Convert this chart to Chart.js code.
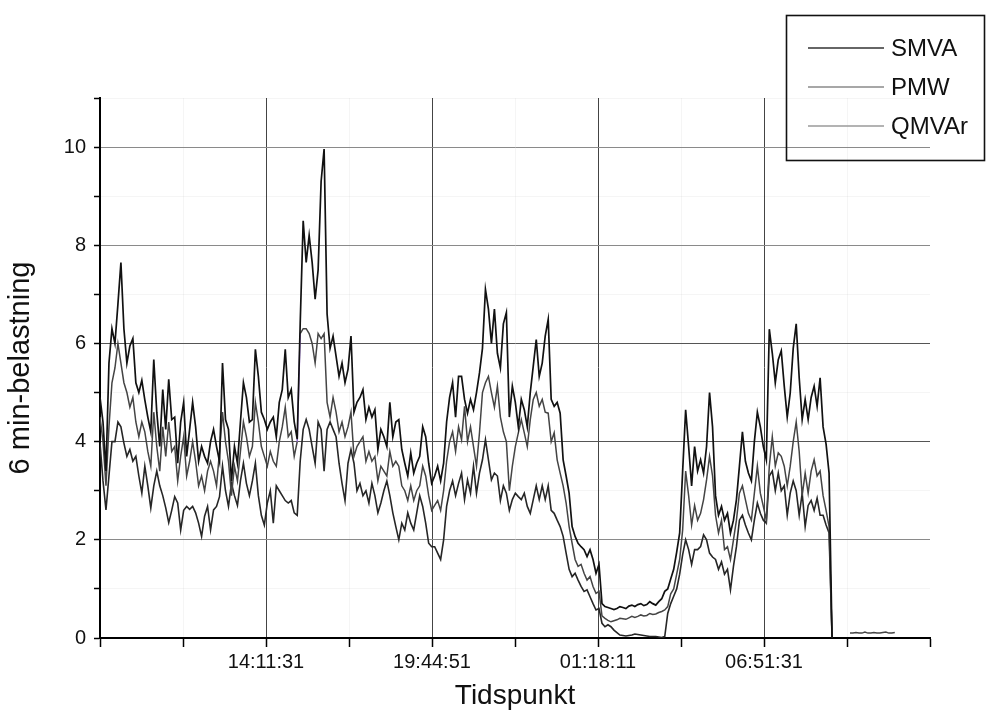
<!DOCTYPE html>
<html>
<head>
<meta charset="utf-8">
<title>6 min-belastning</title>
<script src="https://cdn.jsdelivr.net/npm/chart.js@4.4.1/dist/chart.umd.min.js"></script>
<style>
  body { margin: 0; background: #fff; }
  #wrap { width: 999px; height: 716px; }
</style>
</head>
<body>
<div id="wrap"><canvas id="myChart" width="999" height="716"></canvas></div>
<script>
// 6 minute samples, first one at 08:38:11
var sampleStep = 360;
var xTickLabels = ['', '14:11:31', '19:44:51', '01:18:11', '06:51:31', ''];
var seriesNames = ['SMVA', 'PMW', 'QMVAr'];

var smva = [
  4.9, 4.4, 3.4, 5.6, 6.3, 6.0, 6.8, 7.65, 6.3, 5.6,
  5.95, 6.1, 5.2, 5.0, 5.25, 4.85, 4.5, 4.2, 5.67, 4.6,
  3.9, 5.06, 4.25, 5.27, 4.45, 4.5, 3.56, 4.4, 4.8, 3.7,
  4.25, 4.8, 4.3, 3.6, 3.9, 3.7, 3.56, 4.0, 4.25, 3.9,
  3.6, 5.6, 4.45, 4.25, 3.2, 3.9, 3.56, 4.4, 5.2, 4.9,
  4.4, 4.45, 5.88, 5.33, 4.6, 4.45, 4.25, 4.4, 4.5, 4.1,
  4.8, 5.06, 5.88, 4.9, 5.06, 4.4, 4.05, 6.4, 8.5, 7.65,
  8.2, 7.65, 6.9, 7.5, 9.3, 9.96, 6.6, 5.9, 6.15, 5.74,
  5.33, 5.6, 5.2, 5.47, 6.15, 4.6, 4.8, 4.9, 5.06, 4.45,
  4.7, 4.5, 4.65, 3.84, 4.25, 4.1, 3.9, 4.8, 4.1, 4.4,
  4.45, 3.84, 3.56, 3.3, 3.77, 3.36, 3.56, 3.7, 4.3, 4.1,
  3.56, 3.15, 3.3, 3.5, 3.2, 3.56, 4.4, 4.9, 5.2, 4.5,
  5.33, 5.33, 4.86, 4.58, 4.86, 4.65, 5.0, 5.4, 5.9, 7.1,
  6.7, 6.0, 6.7, 5.8, 5.5, 6.4, 6.63, 4.5, 5.13, 4.8,
  4.3, 4.86, 4.65, 4.3, 5.0, 5.54, 6.08, 5.33, 5.6, 6.15,
  6.49, 4.86, 4.72, 4.8, 4.58, 3.63, 3.3, 2.95, 2.27, 2.07,
  1.93, 1.86, 1.8, 1.66, 1.8, 1.6, 1.32, 1.5, 0.7, 0.64,
  0.62, 0.6, 0.58, 0.6, 0.64, 0.62, 0.6, 0.65, 0.67, 0.64,
  0.68, 0.7, 0.66, 0.68, 0.74, 0.7, 0.67, 0.74, 0.8, 0.95,
  1.0, 1.2, 1.4, 1.75, 2.14, 3.4, 4.65, 3.9, 3.1, 3.9,
  3.4, 3.63, 3.36, 3.9, 5.0, 4.3, 2.9, 2.5, 2.68, 2.4,
  2.54, 2.14, 2.4, 2.82, 3.5, 4.2, 3.6, 3.36, 3.2, 4.0,
  4.6, 4.3, 3.9, 3.63, 6.29, 5.8, 5.2, 5.67, 5.85, 5.13,
  4.5, 4.99, 5.9, 6.4, 5.3, 4.45, 4.86, 4.45, 4.9, 5.13,
  4.72, 5.3, 4.3, 3.95, 3.36, 0
];

var pmw = [
  4.5, 4.0, 3.1, 4.3, 5.2, 5.5, 6.0, 5.6, 5.2, 5.0,
  4.7, 4.9, 4.4, 4.1, 4.4, 4.2, 3.8, 3.5, 4.6, 3.9,
  3.4, 4.3, 3.7, 4.4, 3.8, 3.9, 3.2, 3.7, 4.1, 3.3,
  3.6, 4.0, 3.6, 3.1, 3.3, 3.0, 3.4, 3.6, 3.4, 3.1,
  3.8, 4.6, 4.0, 3.6, 2.9, 3.5, 3.2, 3.8, 4.4, 4.1,
  3.7, 3.9, 4.8, 4.4, 3.9, 3.7, 3.5, 3.8, 3.6, 3.5,
  4.0, 4.3, 4.7, 4.1, 4.2, 3.7, 4.0, 6.2, 6.3, 6.3,
  6.2, 6.0, 5.6, 6.2, 6.1, 6.2, 4.8, 4.5, 4.9, 4.6,
  4.2, 4.4, 4.1, 4.3, 4.6, 3.7, 3.9, 4.0, 4.1, 3.6,
  3.8, 3.6, 3.7, 3.2, 3.5, 3.4, 3.3, 3.8, 3.5, 3.6,
  3.5, 3.1, 3.0, 2.8, 3.1, 2.8, 3.0, 3.1, 3.5, 3.3,
  2.9, 2.6, 2.7, 2.8, 2.6, 3.0, 3.6, 4.0, 4.2, 3.8,
  4.3, 4.04, 4.72, 4.0, 4.3, 3.9, 3.5, 4.18, 5.0, 5.2,
  5.33, 5.0, 4.7, 5.13, 4.5, 4.2, 4.0, 3.0, 3.5, 3.9,
  4.18, 4.45, 4.18, 3.9, 4.45, 4.86, 5.0, 4.72, 4.86, 4.6,
  4.58, 4.0, 4.18, 3.63, 3.36, 3.1, 2.75, 2.27, 1.93, 1.6,
  1.46, 1.5, 1.32, 1.18, 1.25, 1.05, 0.91, 0.95, 0.45, 0.4,
  0.36, 0.33, 0.35, 0.37, 0.4, 0.39, 0.38, 0.41, 0.44, 0.42,
  0.44, 0.47, 0.45, 0.46, 0.5, 0.48, 0.49, 0.52, 0.54, 0.57,
  0.64, 0.9, 1.0, 1.3, 1.6, 2.2, 3.4, 2.9, 2.3, 2.7,
  2.4, 2.54, 2.82, 3.22, 3.7, 3.3, 2.5, 2.14, 2.4, 1.8,
  1.86, 1.6, 2.0, 2.4, 2.95, 3.1, 2.82, 2.54, 2.4, 2.95,
  3.5, 2.95, 2.68, 2.4, 3.5, 4.1, 3.5, 3.77, 3.7, 3.5,
  3.1, 3.5, 4.0, 4.4, 3.8, 2.9, 3.36, 2.95, 3.4, 3.63,
  3.3, 3.4, 2.9, 2.6, 2.27, 0,
  null, null, null, null, null,
  0.1, 0.1, 0.11, 0.1, 0.1, 0.12, 0.1, 0.1, 0.11, 0.1, 0.1, 0.11, 0.12, 0.1, 0.1, 0.11
];

var qmvar = [
  3.97, 3.2, 2.61, 3.3, 4.0, 4.0, 4.4, 4.3, 3.97, 3.7,
  3.84, 3.6, 3.7, 3.3, 2.95, 3.5, 3.1, 2.65, 3.1, 3.4,
  3.1, 2.9, 2.65, 2.35, 2.6, 2.88, 2.75, 2.2, 2.6, 2.68,
  2.62, 2.68, 2.55, 2.34, 2.07, 2.48, 2.68, 2.2, 2.61, 2.68,
  2.88, 3.5, 3.0, 2.68, 3.15, 2.9, 2.7, 3.2, 3.56, 3.15,
  2.9, 3.2, 3.56, 2.9, 2.5, 2.3, 2.75, 3.0, 2.34, 3.1,
  3.0, 2.9, 2.8, 2.75, 2.8, 2.55, 2.5, 3.6, 4.25, 4.45,
  4.25, 3.9, 3.56, 4.4, 4.25, 3.4, 4.25, 4.4, 4.25, 4.1,
  3.56, 3.15, 2.8, 3.56, 3.84, 3.56, 3.0, 3.15, 2.9, 3.0,
  2.75, 3.15, 2.9, 2.55, 2.75, 3.0, 3.2, 2.9, 2.55, 2.27,
  2.0, 2.34, 2.2, 2.55, 2.34, 2.2, 2.55, 2.9, 2.68, 2.34,
  1.93, 1.86, 1.86, 1.73, 1.6, 2.0, 2.68, 3.0, 3.2, 2.9,
  3.15, 3.36, 2.82, 3.22, 2.95, 3.5, 2.95, 3.36, 3.63, 4.04,
  3.63, 3.22, 3.36, 3.3, 2.8, 3.1, 2.95, 2.6, 2.82, 2.95,
  2.88, 2.82, 2.95, 2.68, 2.54, 2.82, 3.1, 2.82, 3.1, 2.82,
  3.1, 2.6, 2.54, 2.4, 2.27, 2.07, 1.73, 1.4, 1.25, 1.32,
  1.18, 1.05, 0.95, 0.98, 0.84, 0.7, 0.57, 0.6, 0.3, 0.23,
  0.27, 0.23, 0.16, 0.11, 0.06, 0.05, 0.04, 0.05, 0.06, 0.08,
  0.07, 0.06, 0.05, 0.04, 0.03, 0.03, 0.03, 0.02, 0.01, 0.03,
  0.5, 0.7, 0.85, 1.0, 1.3, 1.7, 2.0, 1.8, 1.5, 1.8,
  1.8, 1.86, 2.1, 2.0, 1.73, 1.65, 1.6, 1.4, 1.55, 1.3,
  1.4, 0.98, 1.46, 1.86, 2.4, 2.5, 2.3, 2.14, 2.0, 2.4,
  2.75, 2.54, 2.4, 2.34, 3.3, 3.4, 3.0, 3.36, 3.0, 3.1,
  2.5, 2.95, 3.2, 3.0, 2.5, 2.95, 2.27, 2.7, 2.8, 2.6,
  2.85, 2.5, 2.5, 2.3, 2.14, 0
];

var lineColors = ['#111111', '#444444', '#262626'];
var legendColors = ['#333333', '#8a8a8a', '#9a9a9a'];

// x positions of the samples (seconds after 08:38:11)
var times = [];
for (var i = 0; i < pmw.length; i++) {
    times.push(i * sampleStep);
}

function xLabel(value){
    if (value % 20000 != 0) return '';
    return xTickLabels[value / 20000];
}

// legend box top right, drawn by hand
var boxLegend = {
    id: 'boxLegend',
    afterDraw: function(chart){
        var c = chart.ctx;
        c.save();
        c.strokeStyle = '#111';
        c.lineWidth = 1.6;
        c.strokeRect(786.5, 15.5, 198, 145);
        c.font = '24px "Liberation Sans", Arial, sans-serif';
        c.textBaseline = 'middle';
        c.fillStyle = '#111';
        var ys = [48, 87, 126];
        for (var k = 0; k < seriesNames.length; k++) {
            c.strokeStyle = legendColors[k];
            c.lineWidth = 1.3;
            c.beginPath();
            c.moveTo(808, ys[k]);
            c.lineTo(884, ys[k]);
            c.stroke();
            c.fillText(seriesNames[k], 891, ys[k] + 1);
        }
        c.restore();
    }
};

var ctx = document.getElementById('myChart');
var myChart = new Chart(ctx, {
    type: 'line',
    data: {
        labels: times,
        datasets: [{
            label: seriesNames[0],
            data: smva,
            borderColor: lineColors[0],
            borderWidth: 1.7
        }, {
            label: seriesNames[1],
            data: pmw,
            borderColor: lineColors[1],
            borderWidth: 1.5,
            segment: {
                borderColor: function(s){ return s.p0DataIndex == 66 ? '#9b6fdc' : undefined; }
            }
        }, {
            label: seriesNames[2],
            data: qmvar,
            borderColor: lineColors[2],
            borderWidth: 1.6
        }]
    },
    options: {
        responsive: false,
        animation: false,
        events: [],
        spanGaps: false,
        elements: { point: { radius: 0 }, line: { tension: 0 } },
        layout: { padding: { left: 0, right: 69, top: 98, bottom: 0 } },
        plugins: {
            legend: { display: false },
            tooltip: { enabled: false }
        },
        scales: {
            x: {
                type: 'linear',
                min: 0,
                max: 100000,
                afterFit: function(s){ s.height = 78; },
                border: { color: '#000', width: 2 },
                grid: {
                    color: function(c){
                        var v = c.tick ? c.tick.value : 0;
                        if (v == 0 || v == 100000) return 'rgba(0,0,0,0)';
                        return v % 20000 == 0 ? '#444' : 'rgba(0,0,0,0.04)';
                    },
                    tickColor: '#000',
                    tickLength: 9,
                    tickWidth: 1.5
                },
                ticks: {
                    stepSize: 10000,
                    autoSkip: false,
                    maxRotation: 0,
                    padding: 3,
                    color: '#111',
                    font: { family: '"Liberation Sans", Arial, sans-serif', size: 20 },
                    callback: xLabel
                },
                title: {
                    display: true,
                    text: 'Tidspunkt',
                    color: '#111',
                    font: { family: '"Liberation Sans", Arial, sans-serif', size: 28 },
                    padding: { top: 0, bottom: 3 }
                }
            },
            y: {
                min: 0,
                max: 11,
                afterFit: function(s){ s.width = 100; },
                border: { color: '#000', width: 2 },
                grid: {
                    color: function(c){
                        var v = c.tick ? c.tick.value : 0;
                        if (v == 0) return 'rgba(0,0,0,0)';
                        if (v % 2 == 1) return 'rgba(0,0,0,0.04)';
                        return (v == 4 || v == 6) ? '#555' : '#8a8a8a';
                    },
                    tickColor: '#000',
                    tickLength: 6,
                    tickWidth: 1.5
                },
                ticks: {
                    stepSize: 1,
                    autoSkip: false,
                    padding: 8,
                    color: '#111',
                    font: { family: '"Liberation Sans", Arial, sans-serif', size: 20 },
                    callback: function(v){ return v % 2 == 0 ? v : ''; }
                },
                title: {
                    display: true,
                    text: '6 min-belastning',
                    color: '#111',
                    font: { family: '"Liberation Sans", Arial, sans-serif', size: 29 },
                    padding: { top: 4, bottom: 0 }
                }
            }
        }
    },
    plugins: [boxLegend]
});
</script>
</body>
</html>
